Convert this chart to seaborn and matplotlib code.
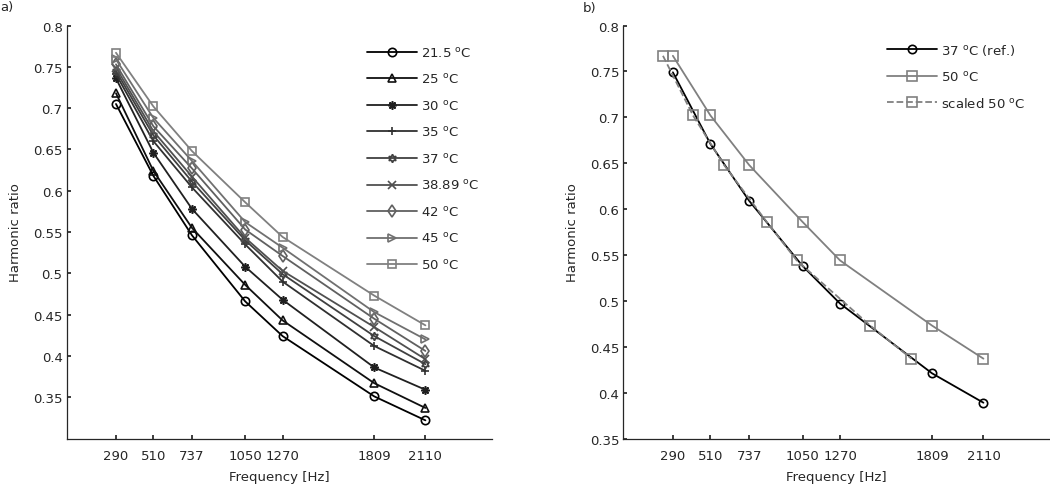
import matplotlib
matplotlib.use("Agg")
import matplotlib.pyplot as plt
import numpy as np
import seaborn as sns

# frequencies of the measured harmonics
freqs = [290, 510, 737, 1050, 1270, 1809, 2110]
freq_labels = ["290", "510", "737", "1050", "1270", "1809", "2110"]

temps = ["21.5", "25", "30", "35", "37", "38.89", "42", "45", "50"]

ratio_215 = [0.705, 0.618, 0.546, 0.466, 0.424, 0.351, 0.322]
ratio_25 = [0.718, 0.624, 0.555, 0.486, 0.443, 0.367, 0.337]
ratio_30 = [0.736, 0.646, 0.578, 0.508, 0.468, 0.386, 0.359]
ratio_35 = [0.741, 0.660, 0.604, 0.535, 0.490, 0.412, 0.382]
ratio_37 = [0.745, 0.667, 0.611, 0.540, 0.499, 0.424, 0.390]
ratio_3889 = [0.749, 0.672, 0.617, 0.543, 0.503, 0.435, 0.396]
ratio_42 = [0.753, 0.678, 0.627, 0.553, 0.521, 0.445, 0.406]
ratio_45 = [0.759, 0.688, 0.636, 0.562, 0.531, 0.453, 0.420]
ratio_50 = [0.767, 0.702, 0.648, 0.586, 0.544, 0.473, 0.437]

# panel b
ratio_37_ref = [0.749, 0.671, 0.609, 0.538, 0.497, 0.421, 0.389]
freqs_scaled = [232, 408, 590, 840, 1016, 1447, 1688]

ytick_vals = [0.35, 0.4, 0.45, 0.5, 0.55, 0.6, 0.65, 0.7, 0.75, 0.8]
ytick_labels = ["0.35", "0.4", "0.45", "0.5", "0.55", "0.6", "0.65", "0.7", "0.75", "0.8"]

FS = 9.5

sns.set_theme(style="ticks")
plt.rcParams['font.family'] = ['DejaVu Sans']
plt.rcParams['mathtext.fontset'] = 'dejavusans'
plt.rcParams['xtick.direction'] = 'in'
plt.rcParams['ytick.direction'] = 'in'
plt.rcParams['xtick.major.size'] = 3
plt.rcParams['ytick.major.size'] = 3
plt.rcParams['xtick.major.pad'] = 7.5
plt.rcParams['ytick.major.pad'] = 3
plt.rcParams['axes.linewidth'] = 0.9
plt.rcParams['font.size'] = FS


def deg(t):
    return t + r" $^{\rm o}$C"


def style_axes(ax, ylim):
    ax.set_xlim(0, 2500)
    ax.set_ylim(*ylim)
    ax.set_xticks(freqs)
    ax.set_xticklabels(freq_labels, fontsize=FS)
    ax.set_yticks(ytick_vals)
    ax.set_yticklabels(ytick_labels, fontsize=FS)
    ax.set_xlabel("Frequency [Hz]", fontsize=FS, labelpad=6)
    ax.set_ylabel("Harmonic ratio", fontsize=FS, labelpad=8)
    sns.despine(ax=ax)


fig = plt.figure(figsize=(10.5, 4.89), dpi=100)
ax1 = fig.add_axes([0.0635, 0.1012, 0.4048, 0.8446])
ax2 = fig.add_axes([0.5937, 0.1012, 0.4063, 0.8446])

all_ratios = [ratio_215, ratio_25, ratio_30, ratio_35, ratio_37,
              ratio_3889, ratio_42, ratio_45, ratio_50]
markers = ['o', '^', (8, 2, 0), '+', (6, 1, 0), 'x', 'd', '>', 's']
greys = np.linspace(0.0, 0.5, len(temps))

for t, r, m, g in zip(temps, all_ratios, markers, greys):
    col = (g, g, g)
    sns.lineplot(x=freqs, y=r, ax=ax1, color=col, marker=m, markersize=6,
                 markerfacecolor='none', markeredgecolor=col, markeredgewidth=1.2,
                 linewidth=1.3, label=deg(t))

style_axes(ax1, (0.3, 0.8))
ax1.legend(loc='upper left', bbox_to_anchor=(0.3495, 0.905), bbox_transform=fig.transFigure,
           frameon=False, fontsize=FS, handlelength=3.8, labelspacing=0.95,
           handletextpad=0.3, borderaxespad=0, borderpad=0)

grey = (0.5, 0.5, 0.5)
sns.lineplot(x=freqs, y=ratio_37_ref, ax=ax2, color='black', marker='o', markersize=6,
             markerfacecolor='none', markeredgecolor='black', markeredgewidth=1.2,
             linewidth=1.3, label=r"37 $^{\rm o}$C (ref.)")
sns.lineplot(x=freqs, y=ratio_50, ax=ax2, color=grey, marker='s', markersize=7,
             markerfacecolor='none', markeredgecolor=grey, markeredgewidth=1.2,
             linewidth=1.3, label=deg("50"))
sns.lineplot(x=freqs_scaled, y=ratio_50, ax=ax2, color=grey, marker='s', markersize=7,
             markerfacecolor='none', markeredgecolor=grey, markeredgewidth=1.2,
             linewidth=1.3, linestyle='--', label="scaled " + deg("50"))
style_axes(ax2, (0.35, 0.8))
ax2.legend(loc='upper left', bbox_to_anchor=(0.845, 0.912), bbox_transform=fig.transFigure,
           frameon=False, fontsize=FS, handlelength=3.8, labelspacing=0.95,
           handletextpad=0.3, borderaxespad=0, borderpad=0)

fig.text(0.0, 0.998, "a)", fontsize=FS, va='top', ha='left')
fig.text(0.555, 0.995, "b)", fontsize=FS, va='top', ha='left')

fig.savefig("out.png", dpi=100)
